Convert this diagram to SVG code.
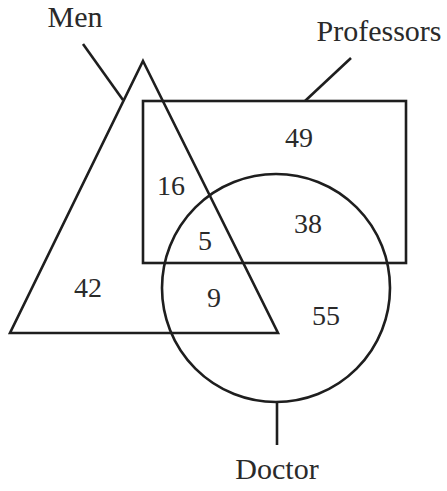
<svg xmlns="http://www.w3.org/2000/svg" width="447" height="491" viewBox="0 0 447 491">
<style>
.s{fill:none;stroke:#1e1e1e;stroke-width:2.6}
.n,.l{font-family:'Liberation Serif','Times New Roman',Times,'DejaVu Serif',serif;fill:#2a2a2a;text-anchor:middle}
.n{font-size:28px}
.l{font-size:30px}
</style>
<rect width="447" height="491" fill="#fff"/>
<g id="connectors">
<line class="s" x1="83" y1="44" x2="123" y2="100"/>
<line class="s" x1="351" y1="58" x2="305" y2="101"/>
<line class="s" x1="277" y1="402" x2="277" y2="445"/>
</g>
<g id="men">
<polygon class="s" points="143,61 278,333 10,333"/>
<text class="l" x="75" y="27">Men</text>
</g>
<g id="professors">
<rect class="s" x="143" y="101" width="263" height="162"/>
<text class="l" x="379" y="41">Professors</text>
</g>
<g id="doctor">
<circle class="s" cx="276" cy="288" r="114"/>
<text class="l" x="277" y="479">Doctor</text>
</g>
<g id="counts">
<text class="n" x="299" y="147">49</text>
<text class="n" x="171" y="195">16</text>
<text class="n" x="308" y="233">38</text>
<text class="n" x="205" y="250">5</text>
<text class="n" x="88" y="297">42</text>
<text class="n" x="214" y="307">9</text>
<text class="n" x="326" y="325">55</text>
</g>
</svg>
